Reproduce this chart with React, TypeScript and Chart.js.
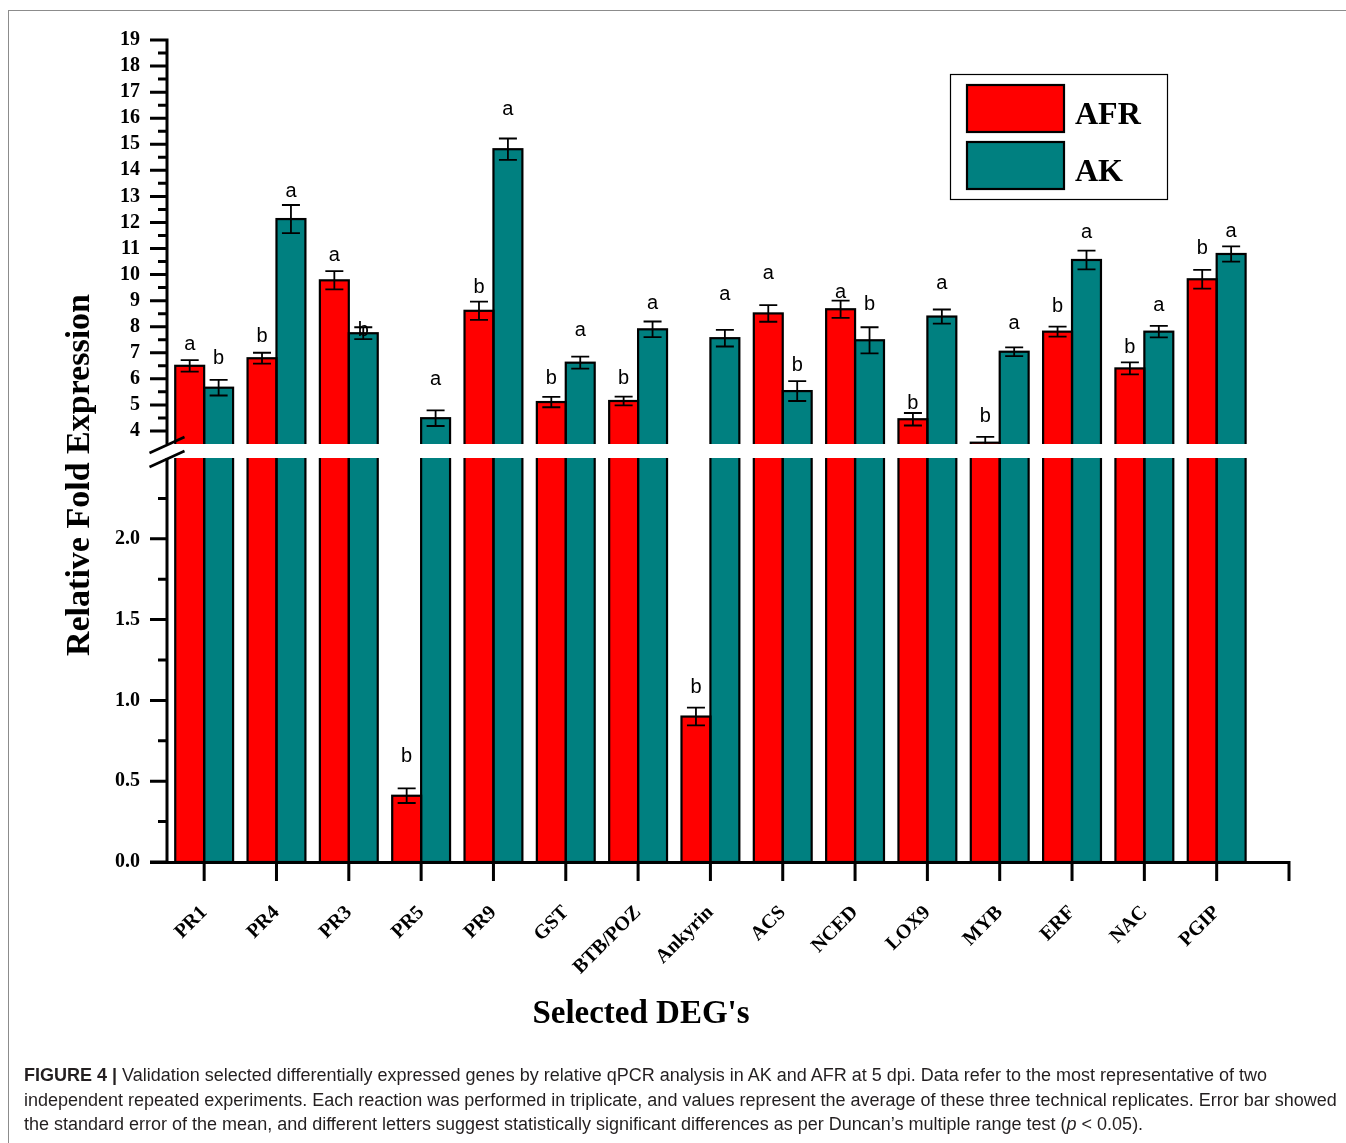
import React, { useEffect, useRef } from "react";
import { Chart, registerables, LinearScale } from "chart.js";

Chart.register(...registerables);

const GENES = ["PR1", "PR4", "PR3", "PR5", "PR9", "GST", "BTB/POZ", "Ankyrin", "ACS", "NCED", "LOX9", "MYB", "ERF", "NAC", "PGIP"];
const SERIES = ["AFR", "AK"];
const AFR_VALUES = [6.5, 6.79, 9.78, 0.41, 8.61, 5.11, 5.15, 0.9, 8.51, 8.67, 4.45, 3.55, 7.81, 6.4, 9.82];
const AFR_ERRORS = [0.22, 0.21, 0.35, 0.045, 0.35, 0.2, 0.17, 0.055, 0.32, 0.33, 0.24, 0.22, 0.19, 0.23, 0.36];
const AK_VALUES = [5.66, 12.13, 7.75, 4.49, 14.81, 6.62, 7.9, 7.56, 5.53, 7.48, 8.39, 7.04, 10.56, 7.81, 10.79];
const AK_ERRORS = [0.3, 0.54, 0.23, 0.3, 0.41, 0.23, 0.3, 0.32, 0.38, 0.5, 0.27, 0.17, 0.36, 0.22, 0.29];
const AFR_LETTERS = ["a", "b", "a", "b", "b", "b", "b", "b", "a", "a", "b", "b", "b", "b", "b"];
const AK_LETTERS = ["b", "a", "b", "a", "a", "a", "a", "a", "b", "b", "a", "a", "a", "a", "a"];
const AFR_LETTER_AT = [7.3, 7.61, 10.75, 0.65, 9.52, 6.03, 6.03, 1.08, 10.06, 9.3, 5.07, 4.54, 8.79, 7.22, 11.02];
const AK_LETTER_AT = [6.8, 13.17, 7.87, 5.99, 16.35, 7.84, 8.91, 9.22, 6.53, 8.87, 9.64, 8.14, 11.63, 8.83, 11.67];
const Y_TICKS_LOW = [0, 0.5, 1.0, 1.5, 2.0];
const Y_TICKS_HIGH = [4, 5, 6, 7, 8, 9, 10, 11, 12, 13, 14, 15, 16, 17, 18, 19];
const Y_MINOR_LOW = [0.25, 0.75, 1.25, 1.75, 2.25];
const Y_MINOR_HIGH = [4.5, 5.5, 6.5, 7.5, 8.5, 9.5, 10.5, 11.5, 12.5, 13.5, 14.5, 15.5, 16.5, 17.5, 18.5];
const BREAK_LOW = 2.5;
const BREAK_HIGH = 3.5;
const Y_MAX = 19;

const COLORS = ["#FF0000", "#008080"];
const SERIF = '"Liberation Serif", "Times New Roman", serif';
const SANS = '"Liberation Sans", Arial, sans-serif';

// fractions of axis height: lower segment, break band, upper segment
const LOW_FRAC = 404 / 822;
const BAND_FRAC = 14 / 822;

class BrokenLinearScale extends LinearScale {
  static id = "brokenLinear";
  static defaults = LinearScale.defaults;
  buildTicks() {
    return [...Y_TICKS_LOW, ...Y_TICKS_HIGH].map((v) => ({ value: v }));
  }
  getPixelForValue(value: any) {
    if (value === null || value === undefined || isNaN(value)) return NaN;
    const self: any = this;
    const h = self.bottom - self.top;
    const hiFrac = 1 - LOW_FRAC - BAND_FRAC;
    let d: number;
    if (value <= BREAK_LOW) d = (value / BREAK_LOW) * LOW_FRAC;
    else if (value <= BREAK_HIGH) d = LOW_FRAC + ((value - BREAK_LOW) / (BREAK_HIGH - BREAK_LOW)) * BAND_FRAC;
    else d = LOW_FRAC + BAND_FRAC + ((value - BREAK_HIGH) / (Y_MAX - BREAK_HIGH)) * hiFrac;
    return self.bottom - d * h;
  }
  getValueForPixel(pixel: number) {
    const self: any = this;
    const h = self.bottom - self.top;
    const d = (self.bottom - pixel) / h;
    const hiFrac = 1 - LOW_FRAC - BAND_FRAC;
    if (d <= LOW_FRAC) return (d / LOW_FRAC) * BREAK_LOW;
    if (d <= LOW_FRAC + BAND_FRAC) return BREAK_LOW + ((d - LOW_FRAC) / BAND_FRAC) * (BREAK_HIGH - BREAK_LOW);
    return BREAK_HIGH + ((d - LOW_FRAC - BAND_FRAC) / hiFrac) * (Y_MAX - BREAK_HIGH);
  }
}
Chart.register(BrokenLinearScale as any);

const decorPlugin = {
  id: "decor",
  afterDatasetsDraw(chart: any) {
    const ctx = chart.ctx;
    const xs = chart.scales.x;
    const ys = chart.scales.y;
    const area = chart.chartArea;
    const values = [AFR_VALUES, AK_VALUES];
    const errors = [AFR_ERRORS, AK_ERRORS];
    const letters = [AFR_LETTERS, AK_LETTERS];
    const letterAt = [AFR_LETTER_AT, AK_LETTER_AT];
    ctx.save();
    // bar outlines + error bars
    for (let d = 0; d < 2; d++) {
      const meta = chart.getDatasetMeta(d);
      meta.data.forEach((el: any, i: number) => {
        const p = el.getProps(["x", "y", "base", "width"], true);
        ctx.strokeStyle = "#000";
        ctx.lineWidth = 2.2;
        ctx.strokeRect(p.x - p.width / 2, p.y, p.width, p.base - p.y);
        const v = values[d][i];
        const e = errors[d][i];
        const yt = ys.getPixelForValue(v + e);
        const yb = ys.getPixelForValue(v - e);
        ctx.lineWidth = 1.8;
        ctx.beginPath();
        ctx.moveTo(p.x, yt);
        ctx.lineTo(p.x, yb);
        ctx.moveTo(p.x - 9, yt);
        ctx.lineTo(p.x + 9, yt);
        ctx.moveTo(p.x - 9, yb);
        ctx.lineTo(p.x + 9, yb);
        ctx.stroke();
      });
    }
    // break band
    const bandTop = ys.getPixelForValue(BREAK_HIGH);
    const bandBot = ys.getPixelForValue(BREAK_LOW);
    ctx.fillStyle = "#fff";
    ctx.fillRect(area.left - 4, bandTop, area.right - area.left + 8, bandBot - bandTop);

    // letters
    ctx.fillStyle = "#000";
    ctx.font = `20px ${SANS}`;
    ctx.textAlign = "center";
    ctx.textBaseline = "middle";
    for (let d = 0; d < 2; d++) {
      const meta = chart.getDatasetMeta(d);
      meta.data.forEach((el: any, i: number) => {
        const p = el.getProps(["x"], true);
        ctx.fillText(letters[d][i], p.x, ys.getPixelForValue(letterAt[d][i]));
      });
    }

    // axes
    const ax = area.left - 1;
    const yTop = ys.getPixelForValue(Y_MAX);
    const yBot = area.bottom;
    ctx.strokeStyle = "#000";
    ctx.lineWidth = 3;
    ctx.beginPath();
    ctx.moveTo(ax, yTop - 1.5);
    ctx.lineTo(ax, bandTop);
    ctx.moveTo(ax, bandBot);
    ctx.lineTo(ax, yBot);
    ys.ticks.forEach((t: any) => {
      const py = ys.getPixelForValue(t.value);
      ctx.moveTo(ax - 17, py);
      ctx.lineTo(ax, py);
    });
    [...Y_MINOR_LOW, ...Y_MINOR_HIGH].forEach((v) => {
      const py = ys.getPixelForValue(v);
      ctx.moveTo(ax - 9, py);
      ctx.lineTo(ax, py);
    });
    const xEnd = xs.getPixelForValue(xs.max);
    ctx.moveTo(ax - 17, yBot + 0.5);
    ctx.lineTo(xEnd + 1.5, yBot + 0.5);
    xs.ticks.forEach((t: any) => {
      const px = xs.getPixelForValue(t.value);
      ctx.moveTo(px, yBot);
      ctx.lineTo(px, yBot + 19);
    });
    ctx.stroke();
    // break slashes
    ctx.lineWidth = 2.5;
    ctx.beginPath();
    ctx.moveTo(ax - 17.5, bandTop + 9);
    ctx.lineTo(ax + 17.5, bandTop - 7);
    ctx.moveTo(ax - 17.5, bandBot + 9);
    ctx.lineTo(ax + 17.5, bandBot - 7);
    ctx.stroke();

    // axis titles
    ctx.fillStyle = "#000";
    ctx.textAlign = "center";
    ctx.textBaseline = "middle";
    ctx.font = `bold 34px ${SERIF}`;
    ctx.save();
    ctx.translate(80, 475);
    ctx.rotate(-Math.PI / 2);
    ctx.fillText("Relative Fold Expression", 0, 0);
    ctx.restore();
    ctx.font = `bold 33px ${SERIF}`;
    ctx.fillText("Selected DEG's", 641, 1014);

    // legend
    ctx.lineWidth = 1.2;
    ctx.strokeStyle = "#000";
    ctx.strokeRect(950.5, 74.5, 217, 125);
    SERIES.forEach((name, i) => {
      const top = 85 + i * 57;
      ctx.fillStyle = COLORS[i];
      ctx.fillRect(967, top, 97, 47);
      ctx.lineWidth = 2.2;
      ctx.strokeRect(967, top, 97, 47);
      ctx.fillStyle = "#000";
      ctx.font = `bold 32px ${SERIF}`;
      ctx.textAlign = "left";
      ctx.textBaseline = "middle";
      ctx.fillText(name, 1075, top + 31);
    });
    ctx.restore();
  },
};

export default function App() {
  const ref = useRef<HTMLCanvasElement>(null);
  useEffect(() => {
    if (!ref.current) return;
    const tickFont = { family: SERIF, weight: "bold" as const, size: 20 };
    const chart = new Chart(ref.current, {
      type: "bar",
      data: {
        datasets: [
          {
            label: SERIES[0],
            data: AFR_VALUES.map((v, i) => ({ x: i + 1, y: v })),
            backgroundColor: COLORS[0],
            borderWidth: 0,
            categoryPercentage: 0.8,
            barPercentage: 1.0,
          },
          {
            label: SERIES[1],
            data: AK_VALUES.map((v, i) => ({ x: i + 1, y: v })),
            backgroundColor: COLORS[1],
            borderWidth: 0,
            categoryPercentage: 0.8,
            barPercentage: 1.0,
          },
        ],
      },
      options: {
        responsive: false,
        animation: false,
        devicePixelRatio: 1,
        layout: { padding: { left: 98, top: 40, right: 57, bottom: 0 } },
        plugins: { legend: { display: false }, tooltip: { enabled: false }, title: { display: false } },
        scales: {
          x: {
            type: "linear",
            min: 0.5,
            max: GENES.length + 1,
            offset: false,
            afterBuildTicks: (s: any) => {
              s.ticks = [...GENES.map((_, i) => ({ value: i + 1 })), { value: GENES.length + 1 }];
            },
            afterFit: (s: any) => {
              s.height = 188;
            },
            grid: { display: false, drawTicks: true, tickLength: 19 },
            border: { display: false },
            ticks: {
              autoSkip: false,
              minRotation: 45,
              maxRotation: 45,
              padding: 20,
              color: "#000",
              font: tickFont,
              callback: (v: any) => GENES[Number(v) - 1] ?? "",
            },
          },
          y: {
            type: "brokenLinear" as any,
            min: 0,
            max: Y_MAX,
            afterFit: (s: any) => {
              s.width = 70;
            },
            grid: { display: false, drawTicks: true, tickLength: 17 },
            border: { display: false },
            ticks: {
              autoSkip: false,
              padding: 11,
              color: "#000",
              font: tickFont,
              callback: (v: any) => (Number(v) < 3 ? Number(v).toFixed(1) : String(v)),
            },
          },
        } as any,
      },
      plugins: [decorPlugin],
    });
    return () => chart.destroy();
  }, []);

  const cap: React.CSSProperties = {
    position: "absolute",
    left: 24,
    top: 1063,
    fontFamily: '"Liberation Sans", Arial, sans-serif',
    fontSize: 18,
    lineHeight: "24.6px",
    color: "#231f20",
    whiteSpace: "nowrap",
  };

  return (
    <div style={{ position: "absolute", left: 0, top: 0, width: 1346, height: 1143, overflow: "hidden", background: "#fff" }}>
      <canvas ref={ref} width={1346} height={1050} style={{ position: "absolute", left: 0, top: 0 }} />
      <div
        style={{
          position: "absolute",
          left: 8,
          top: 10,
          width: 1338,
          height: 1133,
          borderTop: "1px solid #8c8c8c",
          borderLeft: "1px solid #8c8c8c",
          pointerEvents: "none",
        }}
      />
      <div style={cap}>
        <div>
          <b>FIGURE 4 |</b> Validation selected differentially expressed genes by relative qPCR analysis in AK and AFR at 5 dpi. Data refer to the most representative of two
        </div>
        <div>
          independent repeated experiments. Each reaction was performed in triplicate, and values represent the average of these three technical replicates. Error bar showed
        </div>
        <div>
          the standard error of the mean, and different letters suggest statistically significant differences as per Duncan’s multiple range test (<i>p</i> &lt; 0.05).
        </div>
      </div>
    </div>
  );
}
